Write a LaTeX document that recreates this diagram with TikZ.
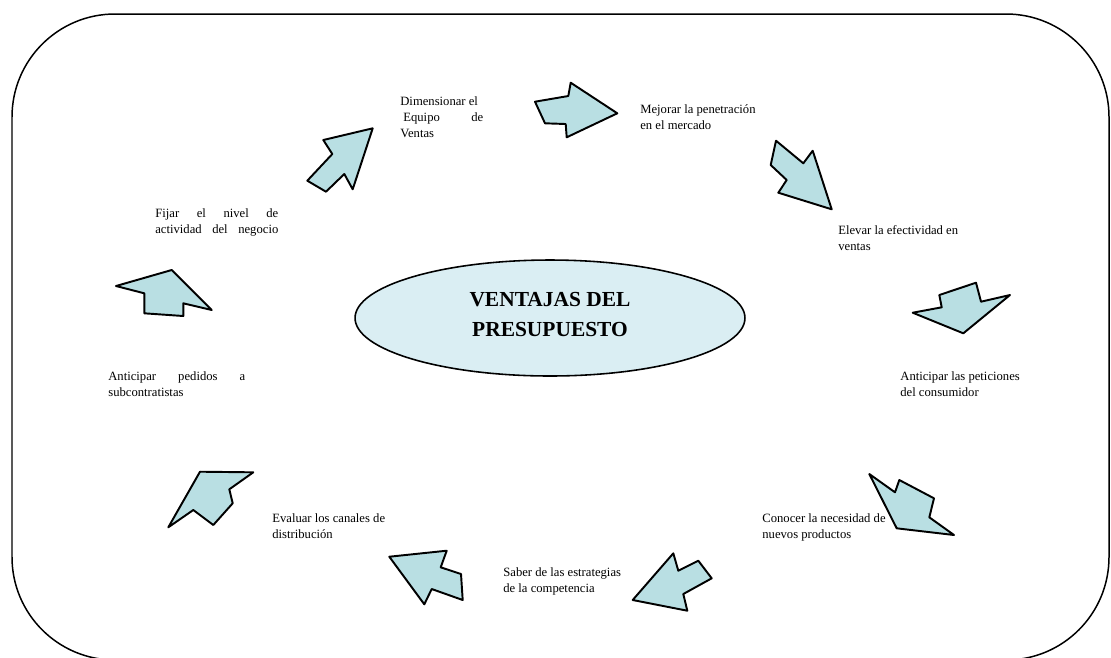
\documentclass[tikz,border=0pt]{standalone}
\usepackage{fontspec}
\setmainfont{Liberation Serif}
\usetikzlibrary{shapes.geometric}
\begin{document}
\begin{tikzpicture}[x=0.02cm,y=-0.02cm,
  blk/.style={draw=black, line width=1.1pt, line join=round, fill=arrowfill},
  lbl/.style={font=\fontsize{7.2}{9.3}\selectfont, align=left, inner sep=0pt, anchor=north west},
  hub/.style={ellipse, draw=black, line width=0.9pt, fill=hubfill, minimum width=7.8cm, minimum height=2.32cm},
  hubtitle/.style={font=\fontsize{12.2}{17.6}\selectfont\bfseries, align=center, inner sep=0pt}]
\definecolor{arrowfill}{RGB}{185,223,227}
\definecolor{hubfill}{RGB}{218,238,243}
\useasboundingbox (0,0) rectangle (1111,657);

% outer rounded frame (its lower edge falls just outside the page)
\begin{scope}
  \clip (0,0) rectangle (1111,657);
  \draw[line width=0.85pt, rounded corners=2.06cm] (12,14) rectangle (1109,660);
\end{scope}

% central ellipse and its title
\node[hub] (hub) at (550,318) {};
\node[hubtitle] (hubtext) at (550,314.5) {VENTAJAS DEL\\PRESUPUESTO};

% block arrows around the cycle
\draw[blk] (535,101.7) -- (568.3,96) -- (570.7,82.7) -- (617.3,113.3) -- (566.7,137.3) -- (565.7,124) -- (545,123.3) -- cycle;
\draw[blk] (372.7,128.3) -- (323.3,140) -- (332.3,154) -- (307.3,180.7) -- (326,191.7) -- (344.3,174) -- (352.7,189.3) -- cycle;
\draw[blk] (776,140.7) -- (803.3,163.3) -- (812.7,150.7) -- (831.7,209.3) -- (778.3,192.7) -- (786.7,180) -- (770.7,165) -- cycle;
\draw[blk] (912.7,312.7) -- (941.7,307.3) -- (939.3,295) -- (976,282.7) -- (981,301.7) -- (1010,295) -- (963.3,333.3) -- cycle;
\draw[blk] (869.3,474) -- (895,492.3) -- (899.3,480) -- (934,498.3) -- (929.3,517.3) -- (954,535) -- (896.7,528.3) -- cycle;
\draw[blk] (673.3,553.3) -- (678.3,570.7) -- (698.3,560.7) -- (711.7,578.3) -- (683.3,594) -- (687.3,610.7) -- (632.7,600) -- cycle;
\draw[blk] (389.3,556.7) -- (446.7,550.7) -- (440.7,567.3) -- (461,574) -- (462.7,600) -- (431.7,589) -- (424.3,604.3) -- cycle;
\draw[blk] (200,471.7) -- (253.3,472.3) -- (229.3,489.3) -- (232.7,503.3) -- (213.3,525) -- (193.3,510) -- (168.3,527.3) -- cycle;
\draw[blk] (116,286) -- (171.7,270) -- (211.7,310) -- (183.3,303.3) -- (183.3,316) -- (144.3,313.3) -- (144.3,293.3) -- cycle;

% labels
\node[lbl] (t1) at (400,96) {Dimensionar el\\\hspace{0.06cm}\makebox[1.6cm][s]{Equipo\hfill de}\\Ventas};
\node[lbl] (t2) at (640,104) {Mejorar la penetración\\en el mercado};
\node[lbl] (t3) at (838,225) {Elevar la efectividad en\\ventas};
\node[lbl] (t4) at (900,371) {Anticipar las peticiones\\del consumidor};
\node[lbl] (t5) at (762,513) {Conocer la necesidad de\\nuevos productos};
\node[lbl] (t6) at (503,567) {Saber de las estrategias\\de la competencia};
\node[lbl] (t7) at (272,513) {Evaluar los canales de\\distribución};
\node[lbl] (t8) at (108,371) {\makebox[2.74cm][s]{Anticipar\hfill pedidos\hfill a}\\subcontratistas};
\node[lbl] (t9) at (155,208) {\makebox[2.46cm][s]{Fijar\hfill el\hfill nivel\hfill de}\\\makebox[2.46cm][s]{actividad del negocio}};
\end{tikzpicture}
\end{document}
